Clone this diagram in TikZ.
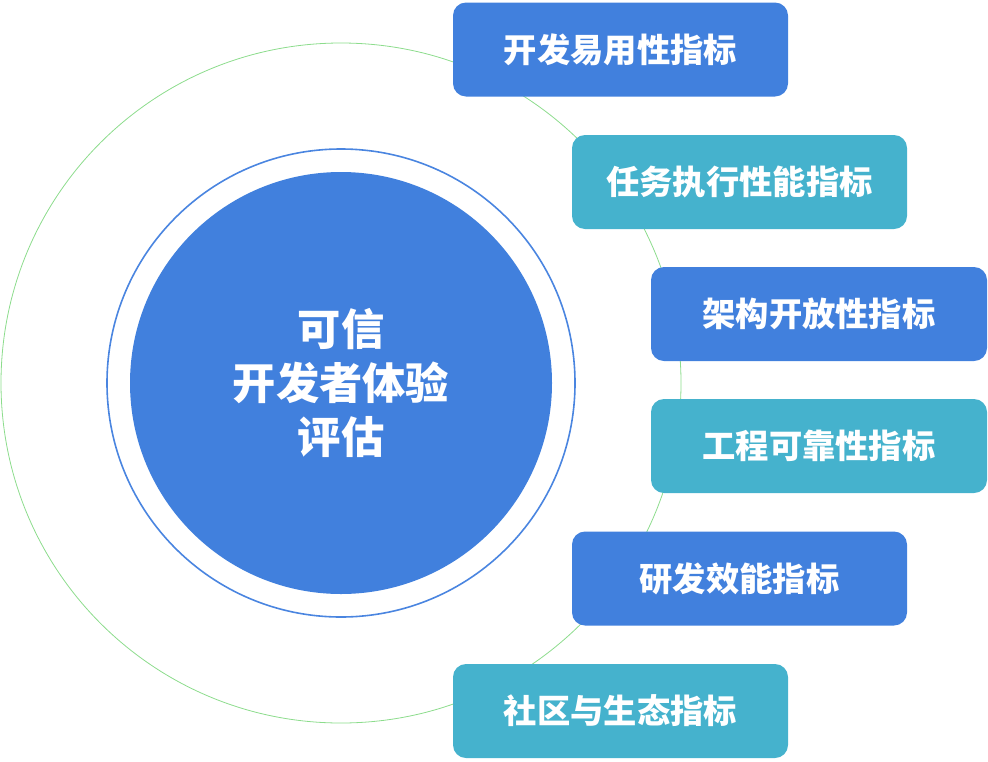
\documentclass[tikz,border=0pt]{standalone}
\usepackage{fontspec}
\newfontfamily\cjk{Noto Sans CJK SC}
\definecolor{boxblue}{RGB}{65,128,221}
\definecolor{boxteal}{RGB}{69,178,205}
\definecolor{ringblue}{RGB}{74,133,224}
\definecolor{ringgreen}{RGB}{140,220,140}
\tikzset{
  metric/.style={rounded corners=13pt, minimum width=335pt, minimum height=94pt,
    text=white, font=\cjk\bfseries\fontsize{33.3}{38}\selectfont, inner sep=0pt},
  mblue/.style={metric, fill=boxblue},
  mteal/.style={metric, fill=boxteal},
}
\begin{document}
\begin{tikzpicture}[x=1pt,y=-1pt]
\useasboundingbox (0,0) rectangle (988,761);
\coordinate (c) at (341,383);
\draw[ringgreen, line width=0.8pt] (c) circle[radius=340];
\draw[ringblue, line width=1.6pt] (c) circle[radius=234];
\node[circle, fill=boxblue, minimum size=422pt, inner sep=0pt, text=white,
  align=center, font=\cjk\bfseries\fontsize{43.3}{54}\selectfont] (hub) at (c)
  {可信\\开发者体验\\评估};
\node[mblue] (m1) at (620.5,49.5) {开发易用性指标};
\node[mteal] (m2) at (739.5,182) {任务执行性能指标};
\node[mblue, minimum width=336pt] (m3) at (819,314) {架构开放性指标};
\node[mteal, minimum width=336pt] (m4) at (819,446) {工程可靠性指标};
\node[mblue] (m5) at (739.5,578.5) {研发效能指标};
\node[mteal] (m6) at (620.5,711) {社区与生态指标};
\end{tikzpicture}
\end{document}
